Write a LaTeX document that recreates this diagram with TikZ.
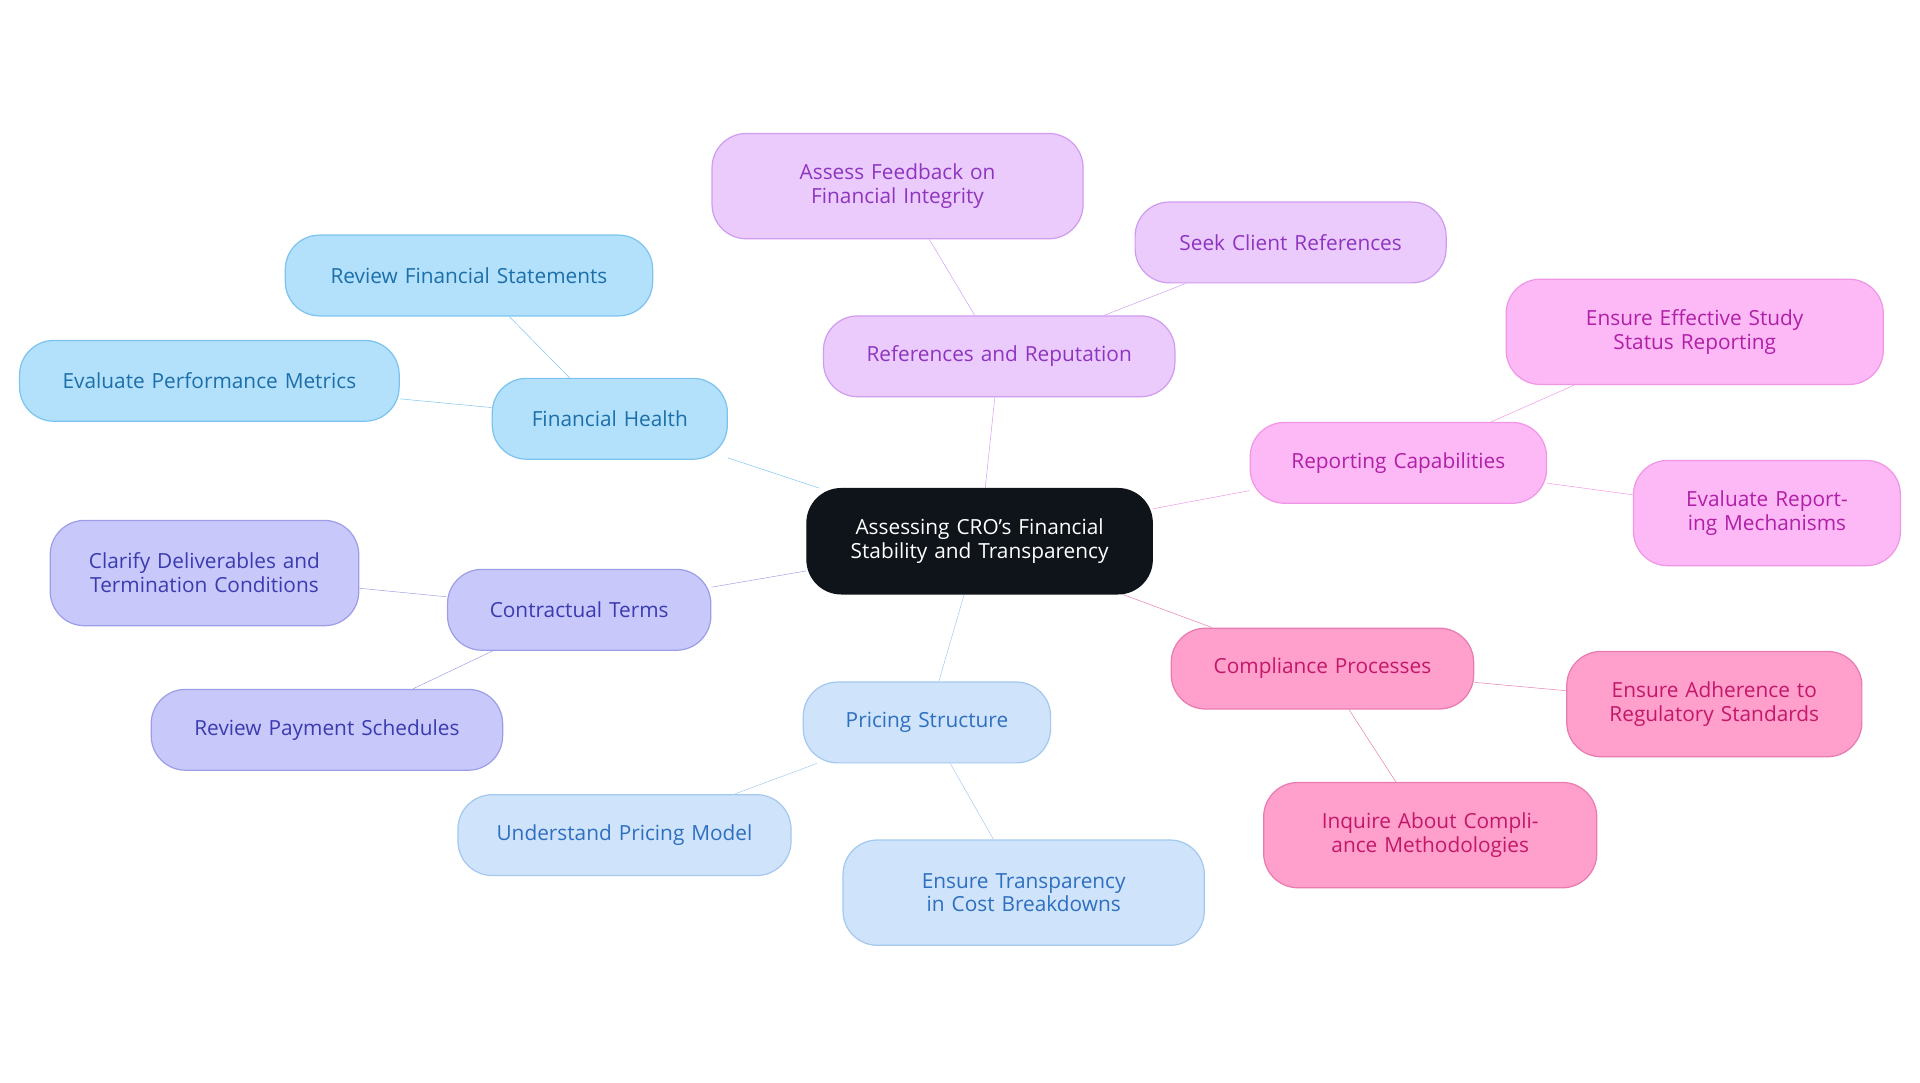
\documentclass[tikz,border=0pt]{standalone}
\usepackage{fontspec}
\setmainfont{Open Sans}
\usetikzlibrary{backgrounds}
\definecolor{fhFill}{HTML}{B3E0FB}\definecolor{fhLine}{HTML}{7CC4EE}\definecolor{fhText}{HTML}{1C6FA8}
\definecolor{ctFill}{HTML}{C8C8FA}\definecolor{ctLine}{HTML}{9E9EE8}\definecolor{ctText}{HTML}{3B3BB0}
\definecolor{psFill}{HTML}{CFE3FA}\definecolor{psLine}{HTML}{A5C8EE}\definecolor{psText}{HTML}{2E6FC0}
\definecolor{cpFill}{HTML}{FF9FCB}\definecolor{cpLine}{HTML}{E87BB0}\definecolor{cpText}{HTML}{C2186B}
\definecolor{rcFill}{HTML}{FDB9F5}\definecolor{rcLine}{HTML}{F096E6}\definecolor{rcText}{HTML}{B01FA8}
\definecolor{rrFill}{HTML}{EBCBFC}\definecolor{rrLine}{HTML}{D09CF0}\definecolor{rrText}{HTML}{8E35C0}
\definecolor{hubFill}{HTML}{0E1419}
\tikzset{every picture/.style={line width=1.5pt}}
\tikzset{
  box/.style={rounded corners=28pt, align=center, inner sep=0pt, line width=1pt,
    font=\fontsize{17}{19.5}\selectfont},
  fh/.style={box, fill=fhFill, draw=fhLine, text=fhText},
  ct/.style={box, fill=ctFill, draw=ctLine, text=ctText},
  ps/.style={box, fill=psFill, draw=psLine, text=psText},
  cp/.style={box, fill=cpFill, draw=cpLine, text=cpText},
  rc/.style={box, fill=rcFill, draw=rcLine, text=rcText},
  rr/.style={box, fill=rrFill, draw=rrLine, text=rrText},
  sz/.style 2 args={minimum width=#1, minimum height=#2, text width=#1-40pt},
}
\begin{document}
\begin{tikzpicture}[x=1pt,y=1pt,yscale=-1,xscale=1]
  \useasboundingbox (0,0) rectangle (1568,884);

  % centre
  \node[box, fill=hubFill, draw=hubFill, text=white, sz={282pt}{86pt}] (hub) at (800,442) {Assessing CRO's Financial Stability and Transparency};

  % financial health
  \node[fh, sz={192pt}{66pt}] (fh) at (498,342) {Financial Health};
  \node[fh, sz={300pt}{66pt}] (fh1) at (383,225) {Review Financial Statements};
  \node[fh, sz={310pt}{66pt}] (fh2) at (171,311) {Evaluate Performance Metrics};

  % contractual terms
  \node[ct, sz={215pt}{66pt}] (ct) at (473,498) {Contractual Terms};
  \node[ct, sz={252pt}{86pt}] (ct1) at (167,468) {Clarify Deliverables and Termination Conditions};
  \node[ct, sz={287pt}{66pt}] (ct2) at (267,596) {Review Payment Schedules};

  % pricing structure
  \node[ps, sz={202pt}{66pt}] (ps) at (757,590) {Pricing Structure};
  \node[ps, sz={272pt}{66pt}] (ps1) at (510,682) {Understand Pricing Model};
  \node[ps, sz={295pt}{86pt}] (ps2) at (836,729) {Ensure Transparency in Cost Breakdowns};

  % compliance processes
  \node[cp, sz={247pt}{66pt}] (cp) at (1080,546) {Compliance Processes};
  \node[cp, sz={241pt}{86pt}] (cp1) at (1400,575) {Ensure Adherence to Regulatory Standards};
  \node[cp, sz={272pt}{86pt}] (cp2) at (1168,682) {Inquire About Compliance Methodologies};

  % reporting capabilities
  \node[rc, sz={242pt}{66pt}] (rc) at (1142,378) {Reporting Capabilities};
  \node[rc, sz={308pt}{86pt}] (rc1) at (1384,271) {Ensure Effective Study Status Reporting};
  \node[rc, sz={218pt}{86pt}] (rc2) at (1443,419) {Evaluate Reporting Mechanisms};

  % references and reputation
  \node[rr, sz={287pt}{66pt}] (rr) at (816,291) {References and Reputation};
  \node[rr, sz={303pt}{86pt}] (rr1) at (733,152) {Assess Feedback on Financial Integrity};
  \node[rr, sz={254pt}{66pt}] (rr2) at (1054,198) {Seek Client References};

  \begin{scope}[on background layer]
    \draw[fhLine] (hub) -- (fh) (fh) -- (fh1) (fh) -- (fh2);
    \draw[ctLine] (hub) -- (ct) (ct) -- (ct1) (ct) -- (ct2);
    \draw[psLine] (hub) -- (ps) (ps) -- (ps1) (ps) -- (ps2);
    \draw[cpLine] (hub) -- (cp) (cp) -- (cp1) (cp) -- (cp2);
    \draw[rcLine] (hub) -- (rc) (rc) -- (rc1) (rc) -- (rc2);
    \draw[rrLine] (hub) -- (rr) (rr) -- (rr1) (rr) -- (rr2);
  \end{scope}
\end{tikzpicture}
\end{document}
